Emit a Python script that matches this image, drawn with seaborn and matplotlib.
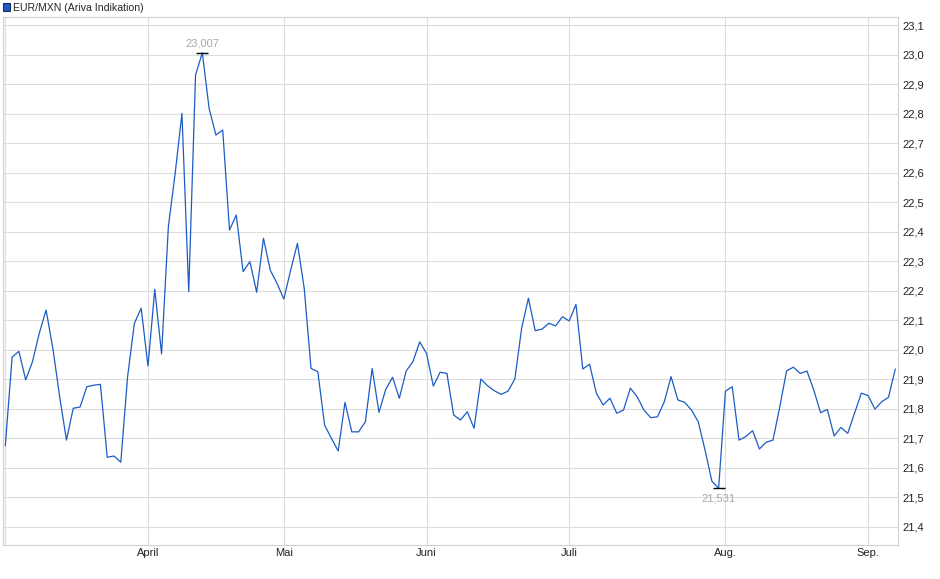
import numpy as np
import pandas as pd
import matplotlib
matplotlib.use("Agg")
import matplotlib.pyplot as plt
import matplotlib.ticker as mticker
from matplotlib.patches import Patch
import seaborn as sns

# EUR/MXN daily values, 3 Mar - 5 Sep 2025
values = [
    21.675, 21.975, 21.995, 21.898, 21.960, 22.056, 22.135, 22.005, 21.841, 21.694,
    21.802, 21.806, 21.875, 21.880, 21.883, 21.636, 21.640, 21.619, 21.909, 22.090,
    22.141, 21.945, 22.205, 21.986, 22.417, 22.598, 22.801, 22.197, 22.931, 23.007,
    22.818, 22.728, 22.745, 22.406, 22.457, 22.265, 22.299, 22.195, 22.378, 22.270,
    22.225, 22.172, 22.270, 22.361, 22.208, 21.937, 21.926, 21.745, 21.700, 21.657,
    21.822, 21.722, 21.722, 21.756, 21.937, 21.788, 21.866, 21.907, 21.836, 21.928,
    21.960, 22.027, 21.988, 21.877, 21.924, 21.920, 21.779, 21.762, 21.790, 21.734,
    21.901, 21.878, 21.861, 21.849, 21.860, 21.901, 22.073, 22.175, 22.065, 22.070,
    22.090, 22.081, 22.112, 22.098, 22.154, 21.935, 21.951, 21.853, 21.813, 21.836,
    21.785, 21.796, 21.870, 21.841, 21.796, 21.770, 21.773, 21.824, 21.909, 21.830,
    21.822, 21.796, 21.756, 21.660, 21.555, 21.531, 21.860, 21.875, 21.694, 21.706,
    21.726, 21.664, 21.687, 21.694, 21.807, 21.929, 21.941, 21.920, 21.928, 21.864,
    21.787, 21.798, 21.708, 21.737, 21.717, 21.785, 21.853, 21.845, 21.799, 21.824,
    21.839, 21.935,
]

holidays = ["2025-04-18", "2025-04-21", "2025-05-01"]
dates = pd.bdate_range("2025-03-03", "2025-09-05").drop(pd.to_datetime(holidays))
month_names = {4: "April", 5: "Mai", 6: "Juni", 7: "Juli", 8: "Aug.", 9: "Sep."}
y_ticks = np.round(np.arange(21.4, 23.11, 0.1), 1)

df = pd.DataFrame({"date": dates, "value": values})
df["pos"] = np.arange(len(df))

sns.set_style("white")
plt.rcParams["font.family"] = ["Liberation Sans", "DejaVu Sans"]

fig = plt.figure(figsize=(9.4, 5.79), dpi=100)
ax = fig.add_axes([3 / 940, 34 / 579, 895 / 940, 528 / 579])

line_color = "#1c5cc4"
grid_color = "#dcdcdc"

sns.lineplot(data=df, x="pos", y="value", ax=ax, color=line_color, linewidth=0.9)

# month ticks at the first trading day of each month
first_days = df.groupby(df["date"].dt.month)["pos"].min()
tick_pos = [0] + [first_days[m] for m in month_names]
tick_lab = [""] + [month_names[m] for m in month_names]
ax.set_xticks(tick_pos)
ax.set_xticklabels(tick_lab)
ax.set_xlim(-0.34, len(df) - 0.6)

ax.set_yticks(y_ticks)
ax.set_ylim(21.3385, 23.128)
ax.yaxis.set_major_formatter(mticker.FuncFormatter(lambda v, p: f"{v:.1f}".replace(".", ",")))
ax.yaxis.tick_right()

ax.grid(True, color=grid_color, linewidth=0.8)
ax.tick_params(axis="both", length=0, labelsize=8, colors="#222222")
ax.tick_params(axis="x", pad=2.5)
ax.tick_params(axis="y", pad=3)
ax.set_xlabel("")
ax.set_ylabel("")
for s in ax.spines.values():
    s.set_color("#d0d0d0")
    s.set_linewidth(0.8)

# high / low markers
i_max = int(np.argmax(values))
i_min = int(np.argmin(values))
for i, off, va in [(i_max, 3, "bottom"), (i_min, -4, "top")]:
    ax.plot(i, values[i], marker="_", color="black", markersize=9, markeredgewidth=1.0)
    ax.annotate(f"{values[i]:.3f}".replace(".", ","), (i, values[i]),
                xytext=(0, off), textcoords="offset points", ha="center", va=va,
                fontsize=8, color="#a3a9b0")

handle = Patch(facecolor="#1c5cc4", edgecolor="#1a2f5a", linewidth=0.8)
fig.legend([handle], ["EUR/MXN (Ariva Indikation)"], loc="upper left",
           bbox_to_anchor=(0.0, 1.0), frameon=False, fontsize=7.6,
           handlelength=0.7, handleheight=0.7, handletextpad=0.3,
           borderpad=0.15, borderaxespad=0.1)

plt.savefig("out.png", dpi=100)
